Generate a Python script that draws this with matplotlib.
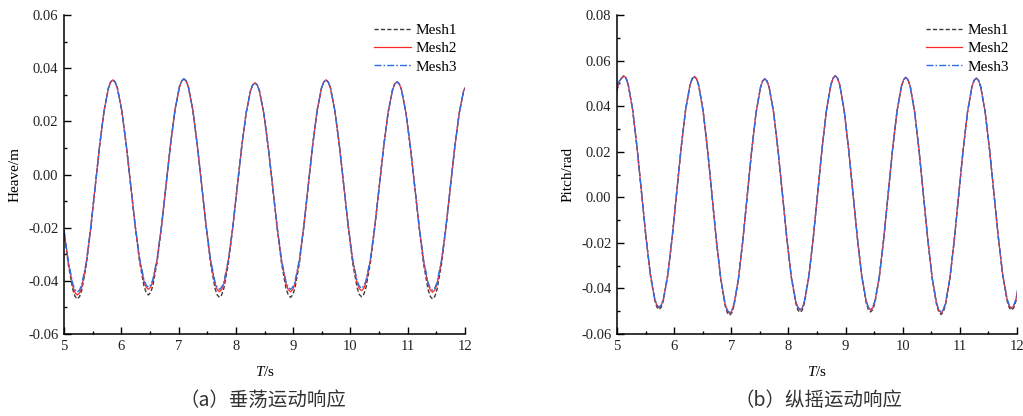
import numpy as np
import matplotlib
matplotlib.use('Agg')
import matplotlib.pyplot as plt
from matplotlib.ticker import MultipleLocator, FormatStrFormatter

plt.rcParams['font.family'] = ['Liberation Serif', 'DejaVu Serif']
plt.rcParams['axes.unicode_minus'] = False
plt.rcParams['mathtext.fontset'] = 'custom'
plt.rcParams['mathtext.it'] = 'Liberation Serif:italic'
plt.rcParams['mathtext.rm'] = 'Liberation Serif'

# sampling grids (s)
heave_t = np.linspace(5.0, 12.0525, 92)
pitch_t = np.linspace(4.966, 12.0592, 93)

# heave response (m)
heave_mesh1 = [-0.0214, -0.0342, -0.0434, -0.0468,
               -0.0434, -0.0342, -0.0205, -0.0048, 0.0106, 0.0238, 0.0325, 0.0356,
               0.0326, 0.0241, 0.0113, -0.0038, -0.0192, -0.0326, -0.0419, -0.0453,
               -0.0419, -0.0325, -0.0190, -0.0036, 0.0115, 0.0244, 0.0330, 0.0360,
               0.0330, 0.0243, 0.0112, -0.0040, -0.0196, -0.0333, -0.0428, -0.0462,
               -0.0428, -0.0335, -0.0201, -0.0048, 0.0102, 0.0230, 0.0315, 0.0345,
               0.0315, 0.0230, 0.0102, -0.0048, -0.0201, -0.0335, -0.0428, -0.0462,
               -0.0428, -0.0334, -0.0198, -0.0042, 0.0110, 0.0240, 0.0326, 0.0356,
               0.0326, 0.0240, 0.0111, -0.0040, -0.0195, -0.0331, -0.0425, -0.0460,
               -0.0425, -0.0332, -0.0197, -0.0044, 0.0106, 0.0234, 0.0319, 0.0349,
               0.0319, 0.0233, 0.0104, -0.0047, -0.0202, -0.0338, -0.0433, -0.0468,
               -0.0433, -0.0339, -0.0204, -0.0049, 0.0102, 0.0230, 0.0315, 0.0345]
heave_mesh2 = [-0.0212, -0.0335, -0.0422, -0.0453,
               -0.0422, -0.0335, -0.0203, -0.0048, 0.0106, 0.0238, 0.0325, 0.0356,
               0.0326, 0.0241, 0.0113, -0.0038, -0.0189, -0.0317, -0.0402, -0.0432,
               -0.0402, -0.0316, -0.0187, -0.0036, 0.0115, 0.0244, 0.0330, 0.0360,
               0.0330, 0.0243, 0.0112, -0.0040, -0.0193, -0.0324, -0.0411, -0.0441,
               -0.0411, -0.0326, -0.0198, -0.0048, 0.0102, 0.0230, 0.0315, 0.0345,
               0.0315, 0.0230, 0.0102, -0.0048, -0.0198, -0.0326, -0.0411, -0.0441,
               -0.0411, -0.0325, -0.0195, -0.0042, 0.0110, 0.0240, 0.0326, 0.0356,
               0.0326, 0.0240, 0.0111, -0.0040, -0.0192, -0.0321, -0.0407, -0.0437,
               -0.0407, -0.0322, -0.0194, -0.0044, 0.0106, 0.0234, 0.0319, 0.0349,
               0.0319, 0.0233, 0.0104, -0.0047, -0.0198, -0.0327, -0.0413, -0.0443,
               -0.0413, -0.0328, -0.0200, -0.0049, 0.0102, 0.0230, 0.0315, 0.0345]
heave_mesh3 = [-0.0210, -0.0330, -0.0413, -0.0442,
               -0.0413, -0.0330, -0.0201, -0.0048, 0.0106, 0.0238, 0.0325, 0.0356,
               0.0326, 0.0241, 0.0113, -0.0038, -0.0188, -0.0313, -0.0396, -0.0424,
               -0.0396, -0.0312, -0.0186, -0.0036, 0.0115, 0.0244, 0.0330, 0.0360,
               0.0330, 0.0243, 0.0112, -0.0040, -0.0192, -0.0320, -0.0404, -0.0432,
               -0.0404, -0.0322, -0.0197, -0.0048, 0.0102, 0.0230, 0.0315, 0.0345,
               0.0315, 0.0230, 0.0102, -0.0048, -0.0197, -0.0322, -0.0404, -0.0432,
               -0.0404, -0.0321, -0.0194, -0.0042, 0.0110, 0.0240, 0.0326, 0.0356,
               0.0326, 0.0240, 0.0111, -0.0040, -0.0191, -0.0317, -0.0400, -0.0428,
               -0.0400, -0.0318, -0.0193, -0.0044, 0.0106, 0.0234, 0.0319, 0.0349,
               0.0319, 0.0233, 0.0104, -0.0047, -0.0197, -0.0323, -0.0407, -0.0435,
               -0.0407, -0.0324, -0.0199, -0.0049, 0.0102, 0.0230, 0.0315, 0.0345]

# extra readings either side of each heave peak / trough
heave_t_ext = [5.1938, 5.2713, 5.8138, 5.8913, 6.4338, 6.5113, 7.0538, 7.1313,
               7.6738, 7.7513, 8.2938, 8.3713, 8.9138, 8.9913, 9.5338, 9.6113,
               10.1538, 10.2313, 10.7738, 10.8513, 11.3938, 11.4713]
heave_mesh1_ext = [-0.0459, -0.0459, 0.0348, 0.0348, -0.0444, -0.0444, 0.0352, 0.0352,
                   -0.0453, -0.0453, 0.0337, 0.0337, -0.0453, -0.0453, 0.0348, 0.0348,
                   -0.0451, -0.0451, 0.0341, 0.0341, -0.0459, -0.0459]
heave_mesh2_ext = [-0.0445, -0.0445, 0.0348, 0.0348, -0.0424, -0.0424, 0.0352, 0.0352,
                   -0.0433, -0.0433, 0.0337, 0.0337, -0.0433, -0.0433, 0.0348, 0.0348,
                   -0.0429, -0.0429, 0.0341, 0.0341, -0.0435, -0.0435]
heave_mesh3_ext = [-0.0434, -0.0434, 0.0348, 0.0348, -0.0416, -0.0416, 0.0352, 0.0352,
                   -0.0424, -0.0424, 0.0337, 0.0337, -0.0424, -0.0424, 0.0348, 0.0348,
                   -0.0420, -0.0420, 0.0341, 0.0341, -0.0427, -0.0427]

# pitch response (rad)
pitch_mesh1 = [0.0440, 0.0510,
               0.0533, 0.0494, 0.0384, 0.0218, 0.0024, -0.0170, -0.0338, -0.0451,
               -0.0492, -0.0451, -0.0339, -0.0171, 0.0023, 0.0216, 0.0382, 0.0491,
               0.0530, 0.0491, 0.0378, 0.0209, 0.0011, -0.0188, -0.0360, -0.0476,
               -0.0517, -0.0476, -0.0362, -0.0191, 0.0006, 0.0202, 0.0370, 0.0481,
               0.0520, 0.0481, 0.0372, 0.0206, 0.0013, -0.0181, -0.0350, -0.0463,
               -0.0505, -0.0463, -0.0348, -0.0177, 0.0019, 0.0215, 0.0383, 0.0494,
               0.0533, 0.0494, 0.0383, 0.0215, 0.0019, -0.0177, -0.0348, -0.0462,
               -0.0503, -0.0462, -0.0349, -0.0180, 0.0016, 0.0211, 0.0377, 0.0487,
               0.0526, 0.0487, 0.0375, 0.0207, 0.0010, -0.0187, -0.0358, -0.0473,
               -0.0514, -0.0473, -0.0359, -0.0188, 0.0009, 0.0205, 0.0373, 0.0484,
               0.0523, 0.0485, 0.0376, 0.0211, 0.0018, -0.0175, -0.0343, -0.0455,
               -0.0495, -0.0455, -0.0343]
pitch_mesh2 = [0.0440, 0.0510,
               0.0533, 0.0494, 0.0384, 0.0218, 0.0024, -0.0170, -0.0336, -0.0446,
               -0.0485, -0.0446, -0.0337, -0.0171, 0.0023, 0.0216, 0.0382, 0.0491,
               0.0530, 0.0491, 0.0378, 0.0209, 0.0011, -0.0188, -0.0357, -0.0470,
               -0.0509, -0.0470, -0.0359, -0.0191, 0.0006, 0.0202, 0.0370, 0.0481,
               0.0520, 0.0481, 0.0372, 0.0206, 0.0013, -0.0181, -0.0347, -0.0456,
               -0.0495, -0.0456, -0.0345, -0.0177, 0.0019, 0.0215, 0.0383, 0.0494,
               0.0533, 0.0494, 0.0383, 0.0215, 0.0019, -0.0177, -0.0345, -0.0456,
               -0.0495, -0.0456, -0.0346, -0.0180, 0.0016, 0.0211, 0.0377, 0.0487,
               0.0526, 0.0487, 0.0375, 0.0207, 0.0010, -0.0187, -0.0355, -0.0467,
               -0.0506, -0.0467, -0.0356, -0.0188, 0.0009, 0.0205, 0.0373, 0.0484,
               0.0523, 0.0485, 0.0376, 0.0211, 0.0018, -0.0175, -0.0340, -0.0449,
               -0.0487, -0.0449, -0.0340]
pitch_mesh3 = [0.0440, 0.0510,
               0.0533, 0.0494, 0.0384, 0.0218, 0.0024, -0.0170, -0.0335, -0.0444,
               -0.0482, -0.0444, -0.0336, -0.0171, 0.0023, 0.0216, 0.0382, 0.0491,
               0.0530, 0.0491, 0.0378, 0.0209, 0.0011, -0.0188, -0.0356, -0.0468,
               -0.0506, -0.0468, -0.0358, -0.0191, 0.0006, 0.0202, 0.0370, 0.0481,
               0.0520, 0.0481, 0.0372, 0.0206, 0.0013, -0.0181, -0.0346, -0.0454,
               -0.0492, -0.0454, -0.0344, -0.0177, 0.0019, 0.0215, 0.0383, 0.0494,
               0.0533, 0.0494, 0.0383, 0.0215, 0.0019, -0.0177, -0.0344, -0.0454,
               -0.0492, -0.0454, -0.0345, -0.0180, 0.0016, 0.0211, 0.0377, 0.0487,
               0.0526, 0.0487, 0.0375, 0.0207, 0.0010, -0.0187, -0.0354, -0.0465,
               -0.0503, -0.0465, -0.0355, -0.0188, 0.0009, 0.0205, 0.0373, 0.0484,
               0.0523, 0.0485, 0.0376, 0.0211, 0.0018, -0.0175, -0.0339, -0.0447,
               -0.0484, -0.0447, -0.0339]

# extra readings either side of each pitch peak / trough
pitch_t_ext = [5.0817, 5.1588, 5.6985, 5.7756, 6.3153, 6.3924, 6.9321, 7.0092,
               7.5489, 7.6260, 8.1657, 8.2428, 8.7825, 8.8596, 9.3993, 9.4764,
               10.0161, 10.0932, 10.6329, 10.7100, 11.2497, 11.3268, 11.8665, 11.9436]
pitch_mesh1_ext = [0.0523, 0.0523, -0.0482, -0.0482, 0.0520, 0.0520, -0.0507, -0.0507,
                   0.0510, 0.0510, -0.0495, -0.0495, 0.0523, 0.0523, -0.0493, -0.0493,
                   0.0516, 0.0516, -0.0504, -0.0504, 0.0513, 0.0513, -0.0485, -0.0485]
pitch_mesh2_ext = [0.0523, 0.0523, -0.0475, -0.0475, 0.0520, 0.0520, -0.0499, -0.0499,
                   0.0510, 0.0510, -0.0485, -0.0485, 0.0523, 0.0523, -0.0485, -0.0485,
                   0.0516, 0.0516, -0.0496, -0.0496, 0.0513, 0.0513, -0.0477, -0.0477]
pitch_mesh3_ext = [0.0523, 0.0523, -0.0472, -0.0472, 0.0520, 0.0520, -0.0496, -0.0496,
                   0.0510, 0.0510, -0.0482, -0.0482, 0.0523, 0.0523, -0.0482, -0.0482,
                   0.0516, 0.0516, -0.0493, -0.0493, 0.0513, 0.0513, -0.0474, -0.0474]

labels = ['Mesh1', 'Mesh2', 'Mesh3']
captions = ['（a）垂荡运动响应', '（b）纵摇运动响应']


def merge(t, y, t_ext, y_ext):
    tt = np.concatenate([t, t_ext])
    yy = np.concatenate([y, y_ext])
    order = np.argsort(tt)
    return tt[order], yy[order]


def draw_panel(ax, t, t_ext, series, series_ext, ylabel, ylim):
    styles = [dict(color='#3c3c3c', ls=(0, (3, 1.6)), lw=1.0),
              dict(color='#ff2b2b', ls='-', lw=0.9),
              dict(color='#2a6ee8', ls=(0, (5, 1.5, 1.2, 1.5)), lw=1.0)]
    for y, y_ext, st, lab in zip(series, series_ext, styles, labels):
        tt, yy = merge(t, y, t_ext, y_ext)
        ax.plot(tt, yy, label=lab, **st)
    ax.set_xlim(5, 12)
    ax.set_ylim(*ylim)
    ax.xaxis.set_major_locator(MultipleLocator(1))
    ax.xaxis.set_minor_locator(MultipleLocator(0.5))
    ax.yaxis.set_major_locator(MultipleLocator(0.02))
    ax.yaxis.set_minor_locator(MultipleLocator(0.01))
    ax.yaxis.set_major_formatter(FormatStrFormatter('%.2f'))
    for s in ['top', 'right']:
        ax.spines[s].set_visible(False)
    for s in ['left', 'bottom']:
        ax.spines[s].set_linewidth(1.1)
    ax.tick_params(which='major', direction='in', length=5, width=1.0, labelsize=10.5,
                   pad=4, labelcolor='#222222')
    ax.tick_params(which='minor', direction='in', length=2.5, width=1.0)
    ax.set_xlabel('$T$/s', fontsize=11, labelpad=9)
    ax.set_ylabel(ylabel, fontsize=11, labelpad=5)
    ax.legend(loc='upper right', frameon=False, fontsize=11, handlelength=2.4,
              handletextpad=0.3, labelspacing=0.3, borderaxespad=0.15,
              bbox_to_anchor=(1.0, 1.0))


fig = plt.figure(figsize=(10.23, 4.16), dpi=100)
ax1 = fig.add_axes([0.0626, 0.197, 0.392, 0.767])
ax2 = fig.add_axes([0.6031, 0.197, 0.391, 0.767])

draw_panel(ax1, heave_t, heave_t_ext,
           [heave_mesh1, heave_mesh2, heave_mesh3],
           [heave_mesh1_ext, heave_mesh2_ext, heave_mesh3_ext],
           'Heave/m', (-0.06, 0.06))
draw_panel(ax2, pitch_t, pitch_t_ext,
           [pitch_mesh1, pitch_mesh2, pitch_mesh3],
           [pitch_mesh1_ext, pitch_mesh2_ext, pitch_mesh3_ext],
           'Pitch/rad', (-0.06, 0.08))

fig.text(0.2566, 0.038, captions[0], ha='center', va='center', fontsize=14,
         family=['Noto Sans CJK SC', 'DejaVu Sans'], color='#333333')
fig.text(0.800, 0.038, captions[1], ha='center', va='center', fontsize=14,
         family=['Noto Sans CJK SC', 'DejaVu Sans'], color='#333333')

fig.savefig('out.png', dpi=100)
